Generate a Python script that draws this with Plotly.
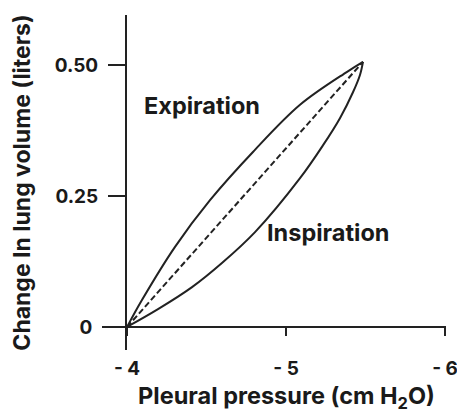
import plotly.graph_objects as go

# Pleural pressure (cm H2O) and change in lung volume (liters)
expiration_x = [-4.0, -4.094, -4.302, -4.522, -4.792, -5.088, -5.384, -5.484]
expiration_y = [0.0, 0.0515, 0.153, 0.242, 0.334, 0.424, 0.487, 0.506]

inspiration_x = [-4.0, -4.195, -4.409, -4.597, -4.805, -5.088, -5.233, -5.340, -5.421, -5.465, -5.484]
inspiration_y = [0.0, 0.034, 0.076, 0.122, 0.181, 0.284, 0.347, 0.399, 0.448, 0.481, 0.506]

compliance_x = [-4.0, -5.484]
compliance_y = [0.0, 0.506]

x_ticks = [-4, -5, -6]
x_tick_text = ["- 4", "- 5", "- 6"]
y_ticks = [0.25, 0.50]
y_tick_text = ["0.25", "0.50"]
y_zero_tick = [0]
y_zero_text = ["0"]

label_expiration = ("Expiration", -4.469, 0.422)
label_inspiration = ("Inspiration", -5.261, 0.181)

INK = "#222222"
FAMILY = "Inter, Noto Sans, sans-serif"
TICK_FONT = dict(family=FAMILY, color="#1a1a1a", size=19, weight=700)


def font(size):
    return dict(family=FAMILY, color="#1a1a1a", size=size, weight=700)


def bold(s):
    return f"<b>{s}</b>"


fig = go.Figure()
fig.add_trace(go.Scatter(x=expiration_x, y=expiration_y, mode="lines",
                         line=dict(color=INK, width=2, shape="spline", smoothing=1.0),
                         hoverinfo="skip", showlegend=False))
fig.add_trace(go.Scatter(x=inspiration_x, y=inspiration_y, mode="lines",
                         line=dict(color=INK, width=2, shape="spline", smoothing=1.0),
                         hoverinfo="skip", showlegend=False))
fig.add_trace(go.Scatter(x=compliance_x, y=compliance_y, mode="lines",
                         line=dict(color=INK, width=2, dash="6px,3px"),
                         hoverinfo="skip", showlegend=False))
# invisible trace so the secondary y axis (longer zero tick) is drawn
fig.add_trace(go.Scatter(x=[-4], y=[0], yaxis="y2", mode="markers",
                         marker=dict(opacity=0), hoverinfo="skip", showlegend=False))

for text, x, y in (label_expiration, label_inspiration):
    fig.add_annotation(x=x, y=y, text=bold(text), showarrow=False,
                       font=font(23.5), xanchor="center", yanchor="middle")

y_range = [-0.0439, 0.5954]

fig.update_layout(
    width=457, height=413,
    margin=dict(l=127, r=11, t=15, b=63, autoexpand=False),
    paper_bgcolor="white", plot_bgcolor="white",
    font=TICK_FONT,
    xaxis=dict(
        range=[-4, -6.006], showgrid=False, zeroline=False, showline=False,
        anchor="free", position=0.0687, automargin=False,
        tickvals=x_ticks, ticktext=[bold(t) for t in x_tick_text],
        ticks="outside", ticklen=8, tickwidth=2, tickcolor=INK,
        ticklabelstandoff=16, tickfont=TICK_FONT, ticklabeloverflow="allow",
        title=dict(text=bold("Pleural pressure (cm H<sub>2</sub>O)"), font=font(23.5), standoff=32),
    ),
    yaxis=dict(
        range=y_range, showgrid=False, automargin=False,
        zeroline=True, zerolinecolor=INK, zerolinewidth=2,
        showline=True, linecolor=INK, linewidth=2,
        tickvals=y_ticks, ticktext=[bold(t) for t in y_tick_text],
        ticks="outside", ticklen=17, tickwidth=2, tickcolor=INK,
        ticklabelstandoff=6, tickfont=TICK_FONT,
        title=dict(text=bold("Change In lung volume (liters)"), font=font(23), standoff=18),
    ),
    yaxis2=dict(
        range=y_range, overlaying="y", side="left", anchor="x", automargin=False,
        showgrid=False, zeroline=False, showline=False,
        tickvals=y_zero_tick, ticktext=[bold(t) for t in y_zero_text],
        ticks="outside", ticklen=24, tickwidth=2, tickcolor=INK,
        ticklabelstandoff=6, tickfont=TICK_FONT,
    ),
)

fig.write_html("out.html")
